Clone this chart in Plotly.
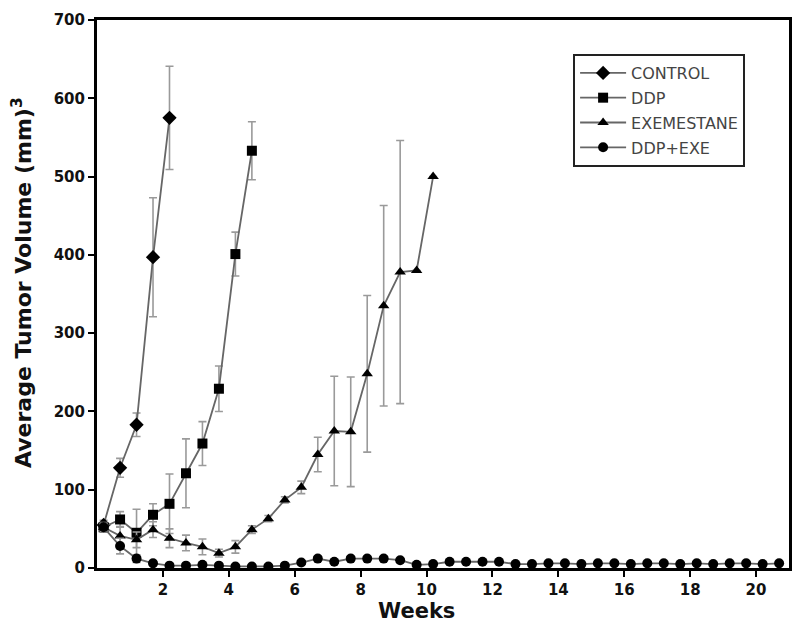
import plotly.graph_objects as go

# ---- data ----
x_control = [0.2, 0.7, 1.2, 1.7, 2.2]
control = [55, 128, 183, 397, 575]
control_err = [6, 12, 15, 76, 66]

x_ddp = [0.2, 0.7, 1.2, 1.7, 2.2, 2.7, 3.2, 3.7, 4.2, 4.7]
ddp = [52, 62, 45, 68, 82, 121, 159, 229, 401, 533]
ddp_err = [6, 10, 30, 14, 38, 44, 28, 29, 28, 37]

x_exe = [0.2, 0.7, 1.2, 1.7, 2.2, 2.7, 3.2, 3.7, 4.2, 4.7, 5.2,
         5.7, 6.2, 6.7, 7.2, 7.7, 8.2, 8.7, 9.2, 9.7, 10.2]
exe = [52, 41, 36, 49, 38, 32, 27, 19, 27, 49, 63,
       87, 103, 145, 175, 174, 248, 335, 378, 380, 500]
exe_err = [5, 12, 10, 10, 12, 10, 10, 5, 8, 5, 4,
           4, 8, 22, 70, 70, 100, 128, 168, 0, 0]

x_combo = [0.2 + 0.5 * i for i in range(42)]
combo = [52, 28, 12, 6, 3, 3, 4, 3, 2, 2, 2, 3, 7, 12, 8, 12, 12, 12, 10, 4, 5,
         8, 8, 8, 8, 5, 5, 6, 6, 5, 6, 6, 5, 6, 6, 5, 6, 5, 6, 6, 5, 6]
combo_err = [4, 10, 5, 3, 2, 2, 2, 2, 1, 1, 1, 1, 2, 3, 2, 3, 3, 3, 2, 1, 1,
             2, 2, 2, 2, 1, 1, 1, 1, 1, 1, 1, 1, 1, 1, 1, 1, 1, 1, 1, 1, 1]

x_ticks = [2, 4, 6, 8, 10, 12, 14, 16, 18, 20]
y_ticks = [0, 100, 200, 300, 400, 500, 600, 700]

LINE = "#666666"
ERR = "#9a9a9a"

def series(name, x, y, err, symbol, size):
    return go.Scatter(
        x=x, y=y, name=name, mode="lines+markers", legendgroup=name,
        line=dict(color=LINE, width=1.8),
        marker=dict(symbol=symbol, size=size, color="black",
                    line=dict(color="black", width=0)),
        error_y=dict(type="data", array=err, visible=True,
                     color=ERR, thickness=1.6, width=4),
    )

fig = go.Figure()
fig.add_trace(series("CONTROL", x_control, control, control_err, "diamond", 11))
fig.add_trace(series("DDP", x_ddp, ddp, ddp_err, "square", 10))
fig.add_trace(series("EXEMESTANE", x_exe, exe, exe_err, "triangle-up", 10))
fig.add_trace(series("DDP+EXE", x_combo, combo, combo_err, "circle", 10))

fig.update_layout(
    width=792, height=632,
    margin=dict(l=89, r=11, t=12, b=72, autoexpand=False),
    paper_bgcolor="white", plot_bgcolor="white",
    font=dict(family="DejaVu Sans", color="black"),
    showlegend=True,
    legend=dict(
        x=0.688, y=0.938, xanchor="left", yanchor="top",
        bgcolor="white", bordercolor="#222", borderwidth=2,
        font=dict(family="DejaVu Sans", size=16, color="#444"),
        tracegroupgap=1, itemwidth=46, traceorder="grouped",
    ),
    xaxis=dict(
        range=[0, 21], tickvals=x_ticks,
        ticktext=["<b>%d</b>" % v for v in x_ticks],
        showgrid=False, zeroline=False, automargin=False,
        showline=True, linecolor="black", linewidth=3, mirror=True,
        ticks="outside", ticklen=6, tickwidth=2, tickcolor="black",
        tickfont=dict(family="DejaVu Sans", size=15, color="#111"),
    ),
    yaxis=dict(
        range=[0, 700], tickvals=y_ticks,
        ticktext=["<b>%d</b>" % v for v in y_ticks],
        showgrid=False, zeroline=False, automargin=False,
        showline=True, linecolor="black", linewidth=3, mirror=True,
        ticks="outside", ticklen=6, tickwidth=2, tickcolor="black",
        tickfont=dict(family="DejaVu Sans", size=15, color="#111"),
    ),
    annotations=[
        dict(text="<b>Weeks</b>", xref="paper", yref="paper",
             x=0.462, y=0, xanchor="center", yanchor="top", yshift=-29,
             showarrow=False, font=dict(family="DejaVu Sans", size=21, color="#111")),
        dict(text="<b>Average Tumor Volume (mm)<sup>3</sup></b>", xref="paper", yref="paper",
             x=0, y=0.52, xanchor="center", yanchor="middle", xshift=-75,
             textangle=-90, showarrow=False,
             font=dict(family="DejaVu Sans", size=22, color="#111")),
    ],
)

fig.write_html("out.html")
